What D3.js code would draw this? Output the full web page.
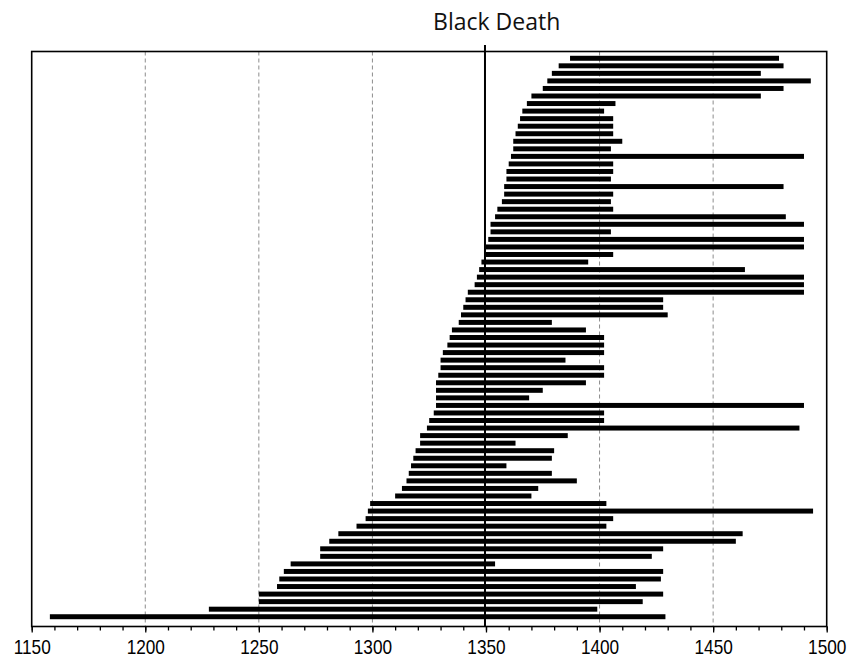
<!DOCTYPE html>
<html lang="en">
<head>
    <meta charset="UTF-8">
    <title>Black Death timeline</title>
    <script src="https://d3js.org/d3.v7.min.js"></script>
    <style>
        body {
            margin: 0;
            padding: 0;
            background-color: white;
        }
        svg {
            display: block;
        }
    </style>
</head>
<body>
    <div id="chart"></div>
    <script>
        const width = 849;
        const height = 658;

        // one bar per entry, listed top to bottom
        const startYears = [
            1387, 1382, 1379, 1377, 1375, 1370, 1368, 1366, 1365, 1364,
            1363, 1362, 1362, 1361, 1360, 1359, 1359, 1358, 1358, 1357,
            1355, 1354, 1352, 1352, 1351, 1350, 1350, 1348, 1347, 1346,
            1345, 1342, 1341, 1340, 1339, 1338, 1335, 1334, 1333, 1331,
            1330, 1330, 1329, 1328, 1328, 1328, 1328, 1327, 1325, 1324,
            1321, 1321, 1319, 1318, 1317, 1316, 1315, 1313, 1310, 1299,
            1298, 1297, 1293, 1285, 1281, 1277, 1277, 1264, 1261, 1259,
            1258, 1250, 1250, 1228, 1158
        ];
        const endYears = [
            1479, 1481, 1471, 1493, 1481, 1471, 1407, 1402, 1406, 1406,
            1406, 1410, 1405, 1490, 1406, 1406, 1405, 1481, 1406, 1405,
            1406, 1482, 1490, 1405, 1490, 1490, 1406, 1395, 1464, 1490,
            1490, 1490, 1428, 1428, 1430, 1379, 1394, 1402, 1402, 1402,
            1385, 1402, 1402, 1394, 1375, 1369, 1490, 1402, 1402, 1488,
            1386, 1363, 1380, 1379, 1359, 1379, 1390, 1373, 1370, 1403,
            1494, 1406, 1403, 1463, 1460, 1428, 1423, 1354, 1428, 1427,
            1416, 1428, 1419, 1399, 1429
        ];

        const majorTicks = [1150, 1200, 1250, 1300, 1350, 1400, 1450, 1500];
        const gridYears = [1200, 1250, 1300, 1400, 1450];
        const eventYear = 1350;
        const eventLabel = "Black Death";

        const bars = startYears.map((s, i) => ({ id: i, start: s, end: endYears[i] }));

        const plot = { left: 31.7, right: 826.7, top: 51.5, bottom: 626.5 };

        const x = d3.scaleLinear()
            .domain([1150, 1500])
            .range([plot.left, plot.right]);

        const y = d3.scaleBand()
            .domain(bars.map(d => d.id))
            .range([54.5, 620.5])
            .paddingInner(0.34)
            .paddingOuter(0.17);

        const svg = d3.select("#chart")
            .append("svg")
            .attr("width", width)
            .attr("height", height);

        // dashed grid lines
        svg.append("g")
            .selectAll("line")
            .data(gridYears)
            .join("line")
            .attr("x1", d => x(d))
            .attr("x2", d => x(d))
            .attr("y1", plot.top)
            .attr("y2", plot.bottom)
            .attr("stroke", "#8c8c8c")
            .attr("stroke-width", 1)
            .attr("stroke-dasharray", "4,3");

        // bars
        svg.append("g")
            .selectAll("rect")
            .data(bars)
            .join("rect")
            .attr("x", d => x(d.start))
            .attr("width", d => x(d.end) - x(d.start))
            .attr("y", d => y(d.id))
            .attr("height", y.bandwidth())
            .attr("fill", "#000");

        // frame
        svg.append("rect")
            .attr("x", plot.left)
            .attr("y", plot.top)
            .attr("width", plot.right - plot.left)
            .attr("height", plot.bottom - plot.top)
            .attr("fill", "none")
            .attr("stroke", "#000")
            .attr("stroke-width", 1.6);

        // black death marker
        svg.append("line")
            .attr("x1", x(eventYear) - 1)
            .attr("x2", x(eventYear) - 1)
            .attr("y1", 45)
            .attr("y2", plot.bottom)
            .attr("stroke", "#000")
            .attr("stroke-width", 2);

        svg.append("text")
            .attr("x", 496.7)
            .attr("y", 30)
            .attr("text-anchor", "middle")
            .style("font-family", "'Open Sans', 'Noto Sans', sans-serif")
            .style("font-size", "23px")
            .attr("fill", "#111")
            .text(eventLabel);

        // x axis: minor ticks every 10 years, labels every 50
        const minorAxis = d3.axisBottom(x)
            .tickValues(d3.range(1150, 1501, 10))
            .tickSize(4)
            .tickFormat("");

        const majorAxis = d3.axisBottom(x)
            .tickValues(majorTicks)
            .tickSize(6)
            .tickFormat(d3.format("d"));

        const gMinor = svg.append("g")
            .attr("transform", `translate(0,${plot.bottom})`)
            .call(minorAxis);
        gMinor.select(".domain").remove();
        gMinor.selectAll("line").attr("stroke", "#000").attr("stroke-width", 1.3);

        const gMajor = svg.append("g")
            .attr("transform", `translate(0,${plot.bottom})`)
            .call(majorAxis);
        gMajor.select(".domain").remove();
        gMajor.selectAll("line").attr("stroke", "#000").attr("stroke-width", 1.3);
        // labels in the reference are narrow, so squeeze them horizontally
        gMajor.selectAll("text")
            .attr("y", 27.5)
            .attr("dy", 0)
            .attr("transform", "scale(0.82,1)")
            .attr("fill", "#000")
            .style("font-family", "'Liberation Sans', Arial, sans-serif")
            .style("font-size", "21px");
    </script>
</body>
</html>
